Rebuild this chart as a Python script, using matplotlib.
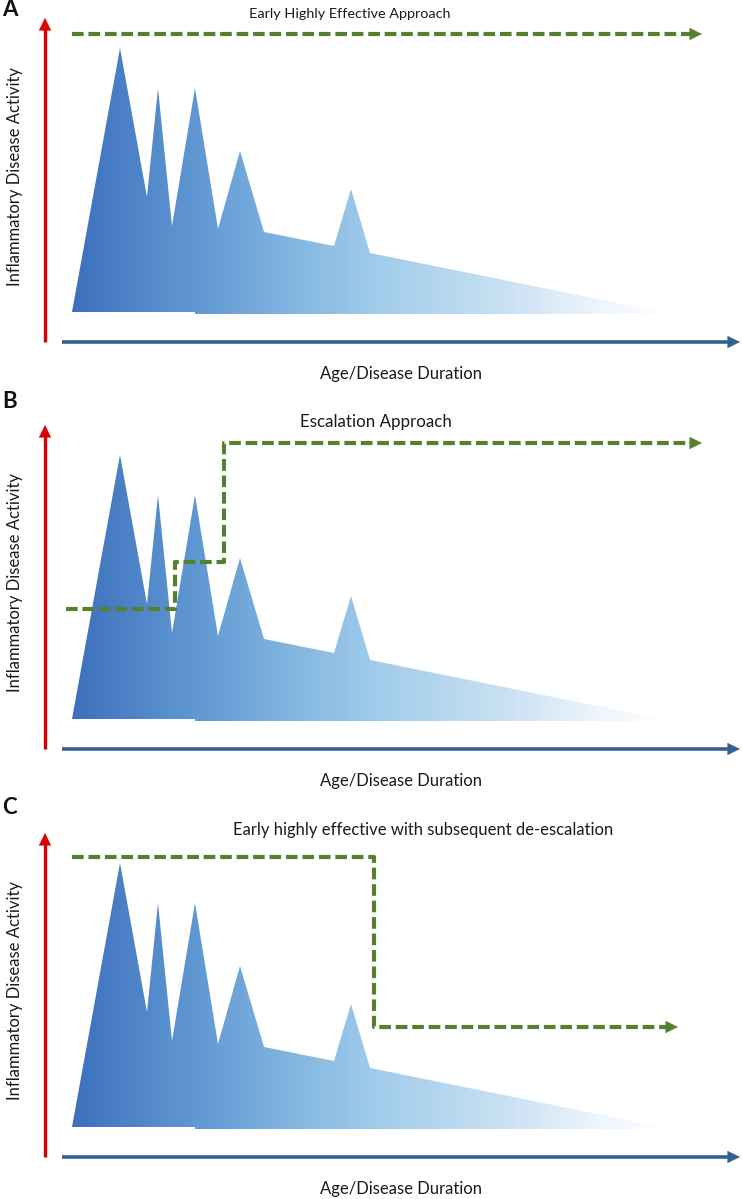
import numpy as np
import matplotlib.pyplot as plt
from matplotlib.colors import LinearSegmentedColormap
from matplotlib.patches import Polygon

plt.rcParams['font.family'] = ['Lato', 'DejaVu Sans']

W, H = 742, 1199

# disease activity profile, picture pixels for panel A
profile_x = [72, 120, 147, 158, 172, 195, 218, 240, 264, 334, 351, 370, 672, 195, 195, 72]
profile_y = [312, 48, 197, 88, 226, 88, 229, 151, 232, 246, 189, 253, 314, 314, 312, 312]

panel_labels = ['A', 'B', 'C']
panel_offsets = [0, 407, 815]
label_y = [10, 401, 808]
titles = ['Early Highly Effective Approach', 'Escalation Approach',
          'Early highly effective with subsequent de-escalation']
title_x = [350, 376, 423]
title_y = [14, 422, 830]
title_size = [10.4, 12.2, 12.0]

# treatment lines (green dashed)
line_a_x = [72, 702]
line_a_y = [34, 34]
line_b_x = [66, 175, 175, 224, 224, 702]
line_b_y = [609, 609, 562, 562, 443, 443]
line_c_x = [72, 374, 374, 678]
line_c_y = [857, 857, 1027, 1027]
treatment_x = [line_a_x, line_b_x, line_c_x]
treatment_y = [line_a_y, line_b_y, line_c_y]

grad_colors = ['#3d70bc', '#5f97d2', '#86b8e2', '#a3cdeb', '#c8e0f3', '#eef5fc', '#ffffff']
grad_stops = [0, 0.2, 0.38, 0.52, 0.72, 0.88, 1]

RED = '#d90000'
BLUE = '#33618f'
GREEN = '#55802e'

cmap = LinearSegmentedColormap.from_list('fade', list(zip(grad_stops, grad_colors)))

fig = plt.figure(figsize=(W / 100, H / 100), dpi=100)
ax = fig.add_axes([0, 0, 1, 1])
ax.set_xlim(0, W)
ax.set_ylim(H, 0)
ax.axis('off')

ramp = np.linspace(0, 1, 400).reshape(1, -1)


def head(tip, tail, color):
    ax.annotate('', xy=tip, xytext=tail, zorder=5,
                arrowprops=dict(arrowstyle='-|>,head_width=0.42,head_length=0.85', color=color, lw=0.3,
                                mutation_scale=10, shrinkA=0, shrinkB=0))


for i, off in enumerate(panel_offsets):
    # gradient clipped to the profile
    ys = [y + off for y in profile_y]
    im = ax.imshow(ramp, cmap=cmap, extent=[72, 672, max(ys), min(ys)], aspect='auto', zorder=1)
    poly = Polygon(list(zip(profile_x, ys)), closed=True, transform=ax.transData, fc='none', ec='none')
    ax.add_patch(poly)
    im.set_clip_path(poly)

    # axes arrows
    ax.plot([45, 45], [342 + off, 28 + off], color=RED, lw=2.4, zorder=3, solid_capstyle='butt')
    head((45, 18 + off), (45, 32 + off), RED)
    ax.plot([62, 730], [342 + off, 342 + off], color=BLUE, lw=2.6, zorder=3, solid_capstyle='butt')
    head((740, 342 + off), (726, 342 + off), BLUE)

    # treatment line
    tx, ty = treatment_x[i], treatment_y[i]
    ax.plot(tx[:-1] + [tx[-1] - 10], ty, color=GREEN, lw=3, ls=(0, (2.8, 1.15)), zorder=4,
            solid_joinstyle='miter', dash_capstyle='butt')
    head((tx[-1], ty[-1]), (tx[-1] - 14, ty[-1]), GREEN)

    ax.text(2, label_y[i], panel_labels[i], fontsize=16, fontweight='bold', color='#111111',
            ha='left', va='center')
    ax.text(title_x[i], title_y[i], titles[i], fontsize=title_size[i], color='#1a1a1a', ha='center', va='center')
    ax.text(15, 176 + off, 'Inflammatory Disease Activity', fontsize=12.0, color='#1a1a1a',
            rotation=90, ha='center', va='center')
    ax.text(401, 374 + off, 'Age/Disease Duration', fontsize=12.0, color='#1a1a1a', ha='center', va='center')

fig.savefig('out.png', dpi=100)
